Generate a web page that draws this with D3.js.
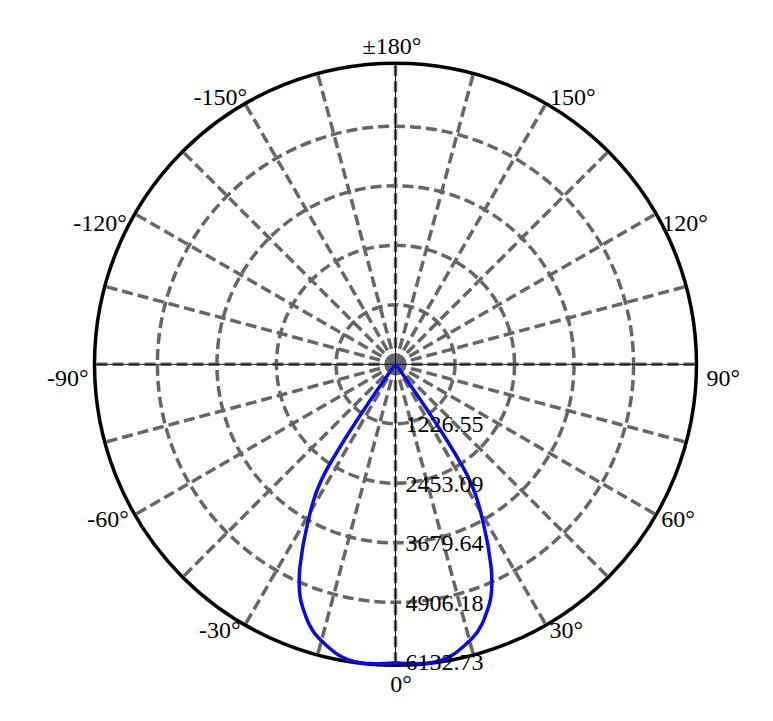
<!DOCTYPE html>
<html>
<head>
	<meta charset="utf-8">
	<title>Polar Intensity</title>
	<style type="text/css">
		body {
			margin: 0;
			background: #fff;
		}

		text {
			font-family: "Liberation Serif", "Times New Roman", serif;
			font-size: 24px;
			fill: #000;
		}

		.grid {
			fill: none;
			stroke: #666;
			stroke-width: 3.5;
			stroke-dasharray: 11,5;
		}

		.axis-line {
			stroke: #000;
			stroke-width: 0.9;
		}

		.outer {
			fill: none;
			stroke: #000;
			stroke-width: 3.5;
		}

		.curve {
			fill: none;
			stroke: #0a0ae6;
			stroke-width: 3.5;
			stroke-linejoin: round;
		}
	</style>
	<script src="https://d3js.org/d3.v7.min.js"></script>
</head>
<body>
<script type="text/javascript">
	// radial rings (cd) and their labels
	var ringValues = [1226.55, 2453.09, 3679.64, 4906.18, 6132.73];
	var ringLabels = ["1226.55", "2453.09", "3679.64", "4906.18", "6132.73"];

	// spokes every 15 degrees, labels every 30
	var gridAngles = [-165, -150, -135, -120, -105, -90, -75, -60, -45, -30, -15, 0,
		15, 30, 45, 60, 75, 90, 105, 120, 135, 150, 165, 180];
	var tickAngles = [180, 150, 120, 90, 60, 30, 0, -30, -60, -90, -120, -150];
	var tickLabels = ["±180°", "150°", "120°", "90°", "60°", "30°", "0°", "-30°", "-60°", "-90°", "-120°", "-150°"];

	// measured curve, angle in degrees, intensity in cd
	var beamAngles = [-38, -37, -36, -35, -34, -33, -32, -31, -30, -29, -28, -27, -26, -25, -24, -23, -22, -21, -20,
		-19, -18, -17, -16, -15, -14, -13, -12, -11, -10, -9, -8, -7, -6, -5, -4, -3, -2, -1,
		0, 1, 2, 3, 4, 5, 6, 7, 8, 9, 10, 11, 12, 13, 14, 15, 16, 17, 18, 19,
		20, 21, 22, 23, 24, 25, 26, 27, 28, 29, 30, 31, 32, 33, 34, 35, 36, 37, 38];
	var intensity = [0, 70, 340, 980, 1950, 2680, 3030, 3285, 3505, 3725, 3955, 4200, 4430, 4675, 4880, 5065, 5225, 5350, 5465,
		5580, 5680, 5770, 5840, 5900, 5955, 6010, 6063, 6108, 6143, 6168, 6185, 6193, 6195, 6192, 6186, 6178, 6168, 6160,
		6155, 6160, 6168, 6178, 6186, 6192, 6195, 6193, 6185, 6168, 6143, 6108, 6063, 6010, 5955, 5900, 5840, 5770, 5680, 5580,
		5465, 5350, 5225, 5065, 4880, 4675, 4430, 4200, 3955, 3725, 3505, 3285, 3030, 2680, 1950, 980, 340, 70, 0];

	var svg = d3.select("body").append("svg")
		.attr("width", 773)
		.attr("height", 721);

	var cx = 395.5, cy = 364.3, outerR = 301;

	var r = d3.scaleLinear().domain([0, 6203]).range([0, outerR]);
	// 0 deg points down, positive angles to the right
	var a = d3.scaleLinear().domain([-180, 180]).range([2 * Math.PI, 0]);

	var g = svg.append("g")
		.attr("transform", "translate(" + cx + "," + cy + ")");

	// screen position from data angle: x = rad*sin(deg), y = rad*cos(deg)
	function sx(deg, rad) { return rad * Math.sin(deg * Math.PI / 180); }
	function sy(deg, rad) { return rad * Math.cos(deg * Math.PI / 180); }

	g.selectAll(".ring")
		.data(ringValues.slice(0, 4))
		.enter().append("circle")
		.attr("class", "grid ring")
		.attr("r", function(d) { return r(d); });

	g.selectAll(".spoke")
		.data(gridAngles)
		.enter().append("line")
		.attr("class", "grid spoke")
		.attr("x1", 0).attr("y1", 0)
		.attr("x2", function(d) { return sx(d, outerR); })
		.attr("y2", function(d) { return sy(d, outerR); });

	g.append("line").attr("class", "axis-line")
		.attr("x1", -outerR).attr("x2", outerR).attr("y1", 0).attr("y2", 0);
	g.append("line").attr("class", "axis-line")
		.attr("x1", 0).attr("x2", 0).attr("y1", -outerR).attr("y2", outerR);

	g.append("circle")
		.attr("class", "outer")
		.attr("r", outerR);

	var curve = d3.lineRadial()
		.angle(function(d, i) { return a(beamAngles[i]); })
		.radius(function(d) { return r(d); })
		.curve(d3.curveCatmullRom.alpha(0.5));

	g.append("path")
		.datum(intensity)
		.attr("class", "curve")
		.attr("d", curve);

	// placement tweaks for the angle labels (anchor, dx, dy from the rim point)
	var place = {
		"180": ["middle", -3.5, -9], "150": ["start", 4, 1], "120": ["start", 6, 17],
		"90": ["start", 10, 22], "60": ["start", 5, 12], "30": ["start", 3.5, 13],
		"0": ["middle", 5.5, 27], "-30": ["end", -4.5, 13], "-60": ["end", -6, 12],
		"-90": ["end", -6, 22], "-120": ["end", -8, 17], "-150": ["end", 2, 1]
	};

	g.selectAll(".tick-label")
		.data(tickAngles)
		.enter().append("text")
		.attr("class", "tick-label")
		.attr("text-anchor", function(d) { return place[d][0]; })
		.attr("x", function(d) { return sx(d, outerR) + place[d][1]; })
		.attr("y", function(d) { return sy(d, outerR) + place[d][2]; })
		.text(function(d, i) { return tickLabels[i]; });

	g.selectAll(".ring-label")
		.data(ringValues)
		.enter().append("text")
		.attr("class", "ring-label")
		.attr("x", 10)
		.attr("y", function(d) { return r(d); })
		.attr("dy", "0.35em")
		.text(function(d, i) { return ringLabels[i]; });
</script>
</body>
</html>
